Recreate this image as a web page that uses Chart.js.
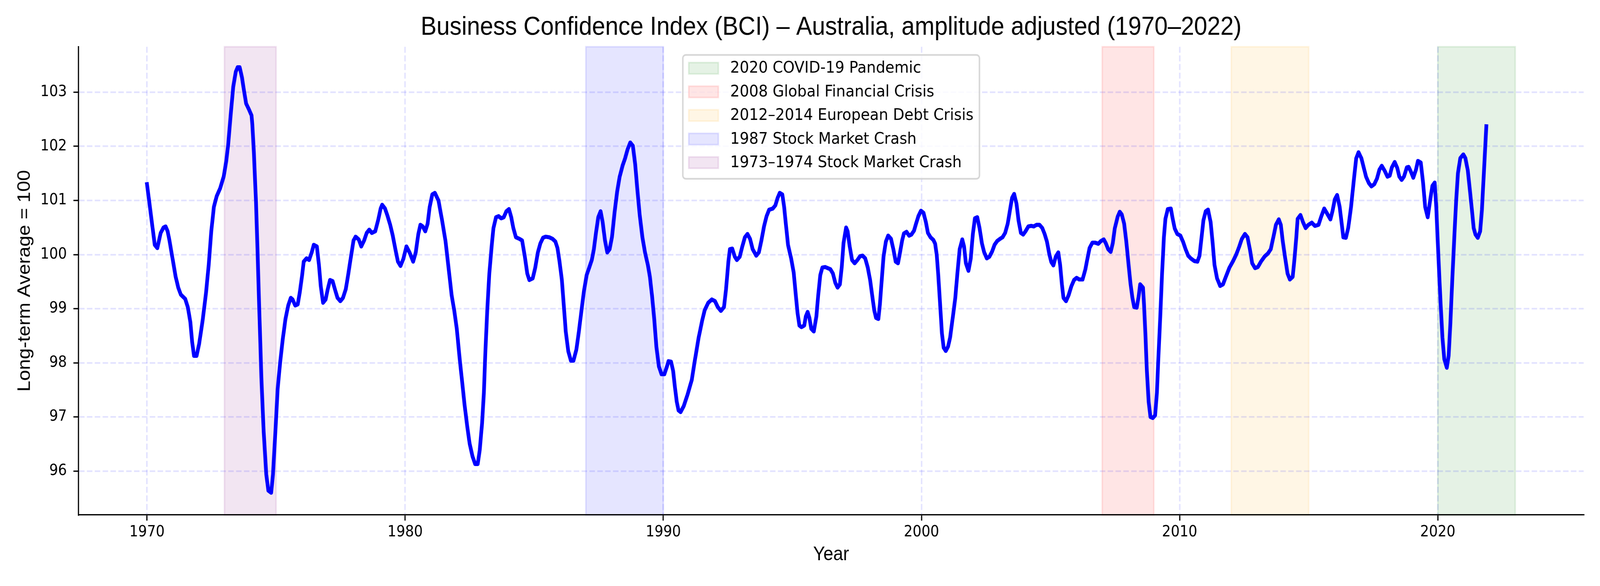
<!DOCTYPE html>
<html>
<head>
<meta charset="utf-8">
<script src="https://cdn.jsdelivr.net/npm/chart.js@4.4.1/dist/chart.umd.min.js"></script>
<style>
  html, body { margin: 0; padding: 0; background: #ffffff; overflow: hidden; width: 100%; height: 100%; }
  #c { display: block; width: 100vw; height: 100vh; }
</style>
</head>
<body>
<canvas id="c" width="4500" height="1500" style="width:100vw;height:100vh;"></canvas>
<script>
// ---------------- DATA ----------------
const chartTitle = 'Business Confidence Index (BCI) – Australia, amplitude adjusted (1970–2022)';
const xAxisTitle = 'Year';
const yAxisTitle = 'Long-term Average = 100';

const xTicks = [1970, 1980, 1990, 2000, 2010, 2020];
const yTicks = [96, 97, 98, 99, 100, 101, 102, 103];

const spanLabels = ['2020 COVID-19 Pandemic', '2008 Global Financial Crisis', '2012–2014 European Debt Crisis', '1987 Stock Market Crash', '1973–1974 Stock Market Crash'];
const spanStarts = [2020, 2007, 2012, 1987, 1973];
const spanEnds   = [2023, 2009, 2015, 1990, 1975];

const years = [
1970.00,1970.30,1970.40,1970.53,1970.64,1970.72,1970.80,1970.87,1970.97,1971.11,1971.21,1971.31,1971.48,1971.58,1971.68,1971.75,1971.82,1971.92,
1972.02,1972.16,1972.29,1972.39,1972.49,1972.59,1972.70,1972.83,1972.97,1973.07,1973.14,1973.24,1973.34,1973.44,1973.51,1973.59,1973.68,1973.76,
1973.84,1973.95,1974.05,1974.08,1974.14,1974.22,1974.28,1974.35,1974.43,1974.52,1974.62,1974.70,1974.81,1974.88,1974.96,1975.06,1975.16,1975.26,
1975.36,1975.47,1975.57,1975.64,1975.74,1975.84,1975.92,1976.01,1976.07,1976.18,1976.28,1976.38,1976.46,1976.58,1976.66,1976.73,1976.82,1976.92,
1977.00,1977.09,1977.19,1977.29,1977.38,1977.49,1977.59,1977.70,1977.80,1977.90,1978.00,1978.08,1978.20,1978.30,1978.41,1978.51,1978.61,1978.71,
1978.84,1978.95,1979.05,1979.11,1979.22,1979.32,1979.42,1979.52,1979.62,1979.72,1979.82,1979.93,1980.05,1980.17,1980.31,1980.41,1980.51,1980.59,
1980.68,1980.78,1980.87,1980.95,1981.05,1981.15,1981.29,1981.42,1981.56,1981.68,1981.80,1981.90,1982.00,1982.10,1982.20,1982.30,1982.40,1982.50,
1982.61,1982.71,1982.81,1982.89,1982.98,1983.05,1983.11,1983.18,1983.26,1983.35,1983.42,1983.52,1983.62,1983.72,1983.82,1983.92,1984.02,1984.11,
1984.19,1984.29,1984.43,1984.53,1984.63,1984.73,1984.81,1984.94,1985.04,1985.14,1985.24,1985.34,1985.44,1985.58,1985.71,1985.82,1985.90,1985.98,
1986.07,1986.15,1986.22,1986.32,1986.42,1986.52,1986.63,1986.73,1986.83,1986.93,1987.03,1987.13,1987.23,1987.31,1987.40,1987.48,1987.57,1987.65,
1987.74,1987.83,1987.92,1988.01,1988.11,1988.21,1988.31,1988.42,1988.52,1988.62,1988.72,1988.82,1988.91,1988.99,1989.09,1989.19,1989.29,1989.40,
1989.48,1989.56,1989.65,1989.73,1989.83,1989.93,1990.04,1990.14,1990.20,1990.30,1990.38,1990.45,1990.52,1990.59,1990.67,1990.79,1990.93,1991.10,
1991.23,1991.37,1991.50,1991.60,1991.74,1991.88,1992.00,1992.11,1992.23,1992.35,1992.43,1992.52,1992.58,1992.67,1992.77,1992.85,1992.96,1993.06,
1993.16,1993.26,1993.36,1993.46,1993.60,1993.70,1993.80,1993.90,1994.00,1994.10,1994.24,1994.34,1994.43,1994.51,1994.61,1994.68,1994.75,1994.83,
1994.95,1995.05,1995.12,1995.20,1995.27,1995.35,1995.46,1995.52,1995.59,1995.66,1995.73,1995.83,1995.93,1996.00,1996.08,1996.16,1996.27,1996.37,
1996.47,1996.57,1996.66,1996.75,1996.84,1996.91,1996.98,1997.08,1997.14,1997.22,1997.31,1997.41,1997.52,1997.62,1997.72,1997.82,1997.92,1998.01,
1998.09,1998.17,1998.24,1998.33,1998.39,1998.46,1998.53,1998.62,1998.71,1998.82,1998.91,1999.00,1999.09,1999.17,1999.25,1999.32,1999.42,1999.52,
1999.61,1999.71,1999.79,1999.88,1999.98,2000.08,2000.17,2000.25,2000.35,2000.46,2000.53,2000.59,2000.65,2000.72,2000.79,2000.86,2000.94,2001.03,
2001.11,2001.21,2001.31,2001.39,2001.48,2001.58,2001.65,2001.72,2001.82,2001.91,2001.99,2002.07,2002.16,2002.25,2002.34,2002.43,2002.53,2002.63,
2002.73,2002.83,2002.93,2003.04,2003.14,2003.24,2003.34,2003.42,2003.51,2003.59,2003.68,2003.76,2003.85,2003.94,2004.03,2004.14,2004.25,2004.35,
2004.46,2004.57,2004.68,2004.77,2004.86,2004.95,2005.03,2005.11,2005.20,2005.30,2005.37,2005.44,2005.50,2005.60,2005.70,2005.81,2005.91,2006.01,
2006.11,2006.24,2006.35,2006.43,2006.51,2006.62,2006.73,2006.85,2006.95,2007.06,2007.14,2007.23,2007.33,2007.41,2007.49,2007.60,2007.68,2007.76,
2007.85,2007.93,2008.01,2008.10,2008.17,2008.24,2008.34,2008.41,2008.47,2008.58,2008.62,2008.68,2008.73,2008.80,2008.87,2008.96,2009.05,2009.12,
2009.18,2009.25,2009.32,2009.39,2009.45,2009.54,2009.66,2009.72,2009.81,2009.91,2010.03,2010.13,2010.23,2010.33,2010.43,2010.57,2010.69,2010.77,
2010.85,2010.92,2011.01,2011.10,2011.20,2011.28,2011.35,2011.45,2011.57,2011.68,2011.79,2011.93,2012.07,2012.20,2012.31,2012.41,2012.53,2012.63,
2012.72,2012.81,2012.92,2013.03,2013.15,2013.30,2013.42,2013.53,2013.63,2013.73,2013.84,2013.92,2013.99,2014.09,2014.18,2014.27,2014.38,2014.45,
2014.52,2014.57,2014.68,2014.77,2014.88,2014.99,2015.12,2015.24,2015.38,2015.49,2015.60,2015.71,2015.84,2015.92,2016.01,2016.10,2016.20,2016.27,
2016.34,2016.44,2016.53,2016.64,2016.75,2016.84,2016.93,2017.04,2017.13,2017.22,2017.33,2017.43,2017.54,2017.64,2017.74,2017.83,2017.94,2018.05,
2018.14,2018.22,2018.33,2018.43,2018.51,2018.60,2018.69,2018.80,2018.87,2018.96,2019.05,2019.15,2019.23,2019.34,2019.43,2019.51,2019.61,2019.70,
2019.79,2019.88,2019.94,2019.99,2020.05,2020.11,2020.18,2020.25,2020.35,2020.42,2020.49,2020.56,2020.64,2020.71,2020.78,2020.87,2020.99,2021.07,
2021.16,2021.25,2021.32,2021.39,2021.46,2021.55,2021.64,2021.71,2021.79,2021.88
];

const bci = [
101.30,100.18,100.12,100.40,100.50,100.52,100.43,100.26,99.98,99.59,99.39,99.26,99.18,99.03,98.75,98.38,98.13,98.13,
98.35,98.80,99.31,99.81,100.43,100.88,101.08,101.22,101.44,101.73,102.01,102.57,103.10,103.38,103.46,103.46,103.27,103.02,
102.79,102.68,102.57,102.40,101.89,100.99,100.10,98.97,97.73,96.72,95.94,95.64,95.60,95.94,96.61,97.51,98.02,98.44,
98.80,99.06,99.20,99.17,99.06,99.08,99.31,99.62,99.87,99.93,99.90,100.04,100.18,100.15,99.81,99.42,99.11,99.17,
99.36,99.53,99.51,99.34,99.20,99.14,99.20,99.36,99.65,99.96,100.26,100.33,100.28,100.15,100.26,100.40,100.46,100.40,
100.43,100.63,100.85,100.92,100.85,100.71,100.55,100.35,100.10,99.87,99.79,99.92,100.15,100.04,99.87,100.04,100.38,100.55,
100.52,100.43,100.57,100.88,101.11,101.14,101.00,100.66,100.26,99.76,99.25,98.97,98.63,98.13,97.68,97.23,96.84,96.50,
96.27,96.13,96.13,96.39,96.89,97.45,98.24,98.97,99.65,100.15,100.49,100.69,100.71,100.67,100.69,100.80,100.84,100.69,
100.49,100.32,100.29,100.26,99.98,99.65,99.53,99.56,99.76,100.04,100.21,100.31,100.33,100.32,100.29,100.24,100.12,99.87,
99.53,99.03,98.58,98.21,98.04,98.04,98.24,98.58,98.97,99.34,99.62,99.76,99.90,100.10,100.43,100.69,100.80,100.60,
100.26,100.04,100.10,100.32,100.77,101.16,101.44,101.64,101.78,101.95,102.07,102.01,101.67,101.22,100.71,100.32,100.04,99.81,
99.59,99.25,98.80,98.30,97.93,97.79,97.79,97.93,98.03,98.02,97.85,97.55,97.28,97.12,97.09,97.20,97.40,97.68,
98.07,98.47,98.77,98.97,99.11,99.17,99.14,99.03,98.96,99.03,99.36,99.87,100.10,100.11,99.96,99.90,99.96,100.15,
100.32,100.38,100.29,100.10,99.98,100.04,100.26,100.52,100.71,100.83,100.85,100.91,101.05,101.14,101.11,100.88,100.55,100.18,
99.93,99.67,99.31,98.92,98.69,98.66,98.69,98.86,98.94,98.83,98.63,98.58,98.86,99.25,99.62,99.76,99.77,99.75,
99.73,99.65,99.48,99.39,99.45,99.76,100.21,100.50,100.43,100.15,99.90,99.84,99.90,99.97,99.98,99.93,99.76,99.53,
99.25,98.97,98.83,98.81,99.08,99.53,99.96,100.24,100.35,100.29,100.10,99.87,99.84,100.04,100.26,100.39,100.42,100.35,
100.37,100.44,100.57,100.71,100.81,100.77,100.60,100.40,100.32,100.27,100.20,100.00,99.62,99.10,98.55,98.28,98.22,98.30,
98.47,98.83,99.20,99.65,100.10,100.28,100.15,99.84,99.70,99.93,100.38,100.67,100.69,100.49,100.21,100.04,99.93,99.96,
100.05,100.18,100.25,100.29,100.32,100.40,100.57,100.80,101.05,101.12,100.94,100.63,100.40,100.37,100.43,100.52,100.53,100.52,
100.55,100.55,100.49,100.38,100.24,100.01,99.86,99.80,99.96,100.04,99.81,99.45,99.20,99.14,99.25,99.42,99.53,99.57,
99.54,99.54,99.73,99.93,100.12,100.22,100.22,100.20,100.25,100.28,100.21,100.10,100.05,100.21,100.49,100.70,100.79,100.74,
100.57,100.26,99.87,99.45,99.20,99.03,99.02,99.22,99.45,99.39,99.08,98.47,97.85,97.28,97.00,96.98,97.03,97.45,
98.13,98.86,99.65,100.32,100.66,100.84,100.85,100.69,100.48,100.38,100.35,100.24,100.10,99.98,99.93,99.88,99.87,99.98,
100.32,100.63,100.80,100.83,100.60,100.21,99.81,99.56,99.42,99.45,99.59,99.76,99.88,100.01,100.15,100.29,100.38,100.32,
100.10,99.84,99.75,99.77,99.87,99.97,100.02,100.10,100.32,100.55,100.65,100.55,100.26,99.93,99.65,99.54,99.59,99.93,
100.32,100.66,100.73,100.61,100.49,100.55,100.59,100.53,100.55,100.71,100.85,100.76,100.65,100.80,101.02,101.10,100.88,100.60,
100.32,100.31,100.49,100.88,101.39,101.78,101.89,101.78,101.61,101.44,101.32,101.26,101.30,101.40,101.57,101.64,101.55,101.44,
101.46,101.61,101.71,101.60,101.44,101.38,101.44,101.61,101.62,101.53,101.42,101.56,101.73,101.70,101.33,100.88,100.69,100.99,
101.27,101.33,100.88,100.32,99.70,99.08,98.47,98.07,97.91,98.13,98.75,99.53,100.32,100.99,101.50,101.78,101.85,101.78,
101.56,101.16,100.83,100.49,100.37,100.31,100.43,100.83,101.56,102.37
];

// ---------------- STYLE ----------------
const spanRGB = ['0,128,0', '255,0,0', '255,165,0', '0,0,255', '128,0,128'];
const PT = 300 / 72;

const spansPlugin = {
  id: 'spans',
  beforeDraw(chart) {
    const {ctx, chartArea: a, scales: {x}} = chart;
    ctx.save();
    ctx.fillStyle = '#ffffff';
    ctx.fillRect(0, 0, chart.width, chart.height);
    for (let i = 0; i < spanStarts.length; i++) {
      const x1 = x.getPixelForValue(spanStarts[i]);
      const x2 = x.getPixelForValue(spanEnds[i]);
      const col = 'rgba(' + spanRGB[i] + ',0.1)';
      ctx.fillStyle = col;
      ctx.fillRect(x1, a.top, x2 - x1, a.bottom - a.top);
      ctx.strokeStyle = col;
      ctx.lineWidth = 1 * PT;
      ctx.strokeRect(x1, a.top, x2 - x1, a.bottom - a.top);
    }
    ctx.restore();
  }
};

const legendPlugin = {
  id: 'spanLegend',
  afterDraw(chart) {
    const {ctx, chartArea: a} = chart;
    const fs = 10 * PT;
    ctx.save();
    ctx.font = fs + 'px "DejaVu Sans"';
    const pad = 0.4 * fs, hl = 2.0 * fs, hh = 0.7 * fs, htp = 0.8 * fs;
    const pitch = 60.4;
    const textW = Math.max(...spanLabels.map(t => ctx.measureText(t).width));
    const w = pad + hl + htp + textW + pad;
    const h = 317;
    const x0 = (a.left + a.right) / 2 - w / 2;
    const y0 = a.top + 21;
    const r = 0.2 * fs;
    ctx.beginPath();
    ctx.roundRect(x0, y0, w, h, r);
    ctx.fillStyle = 'rgba(255,255,255,0.8)';
    ctx.fill();
    ctx.lineWidth = 1 * PT;
    ctx.strokeStyle = 'rgba(204,204,204,0.8)';
    ctx.stroke();
    for (let i = 0; i < spanLabels.length; i++) {
      const cy = y0 + 34 + pitch * i;
      const col = 'rgba(' + spanRGB[i] + ',0.1)';
      ctx.fillStyle = col;
      ctx.fillRect(x0 + pad, cy - hh / 2, hl, hh);
      ctx.strokeStyle = col;
      ctx.lineWidth = 1 * PT;
      ctx.strokeRect(x0 + pad, cy - hh / 2, hl, hh);
      ctx.fillStyle = '#000000';
      ctx.textAlign = 'left';
      ctx.textBaseline = 'middle';
      ctx.fillText(spanLabels[i], x0 + pad + hl + htp, cy + 1);
    }
    ctx.restore();
  }
};

const gridColor = 'rgba(0,0,255,0.11)';
const gridDash = [3.7 * PT, 1.6 * PT];

new Chart(document.getElementById('c'), {
  type: 'line',
  data: {
    datasets: [{
      label: 'BCI',
      data: years.map((yr, i) => ({x: yr, y: bci[i]})),
      borderColor: '#0000ff',
      borderWidth: 2.5 * PT,
      pointRadius: 0,
      tension: 0,
      fill: false,
      borderJoinStyle: 'round',
      borderCapStyle: 'square'
    }]
  },
  options: {
    responsive: false,
    devicePixelRatio: 1,
    animation: false,
    layout: { padding: { left: 0, right: 46, top: 0, bottom: 0 } },
    plugins: {
      legend: { display: false },
      tooltip: { enabled: false },
      title: {
        display: true,
        text: chartTitle,
        fullSize: false,
        color: '#000000',
        font: { family: 'Liberation Sans', size: 16 * PT, weight: 'normal', lineHeight: 1 },
        padding: { top: 37, bottom: 16 }
      }
    },
    scales: {
      x: {
        type: 'linear',
        min: 1967.35,
        max: 2025.65,
        afterBuildTicks: (s) => { s.ticks = xTicks.map(v => ({ value: v })); },
        afterFit: (s) => { s.height = 182; },
        ticks: {
          color: '#000000',
          font: { family: 'DejaVu Sans', size: 39 },
          padding: 7,
          maxRotation: 0,
          autoSkip: false,
          callback: (v) => String(v)
        },
        grid: {
          color: gridColor,
          lineWidth: 1 * PT,
          drawTicks: true,
          tickLength: 3.5 * PT,
          tickWidth: 0.8 * PT,
          tickColor: '#000000',
          borderDash: gridDash
        },
        border: { display: true, color: '#000000', width: 0.8 * PT, dash: gridDash },
        title: {
          display: true,
          text: xAxisTitle,
          color: '#000000',
          font: { family: 'Liberation Sans', size: 12 * PT, lineHeight: 1 },
          padding: { top: 0, bottom: 55 }
        }
      },
      y: {
        type: 'linear',
        min: 95.19,
        max: 103.84,
        afterBuildTicks: (s) => { s.ticks = yTicks.map(v => ({ value: v })); },
        afterFit: (s) => { s.width = 221; },
        ticks: {
          color: '#000000',
          font: { family: 'DejaVu Sans', size: 39 },
          padding: 18.4,
          autoSkip: false,
          callback: (v) => String(v)
        },
        grid: {
          color: gridColor,
          lineWidth: 1 * PT,
          drawTicks: true,
          tickLength: 3.5 * PT,
          tickWidth: 0.8 * PT,
          tickColor: '#000000',
          borderDash: gridDash
        },
        border: { display: true, color: '#000000', width: 0.8 * PT, dash: gridDash },
        title: {
          display: true,
          text: yAxisTitle,
          color: '#000000',
          font: { family: 'Liberation Sans', size: 12 * PT, lineHeight: 1 },
          padding: { top: 45, bottom: 0 }
        }
      }
    }
  },
  plugins: [spansPlugin, legendPlugin]
});
</script>
</body>
</html>
